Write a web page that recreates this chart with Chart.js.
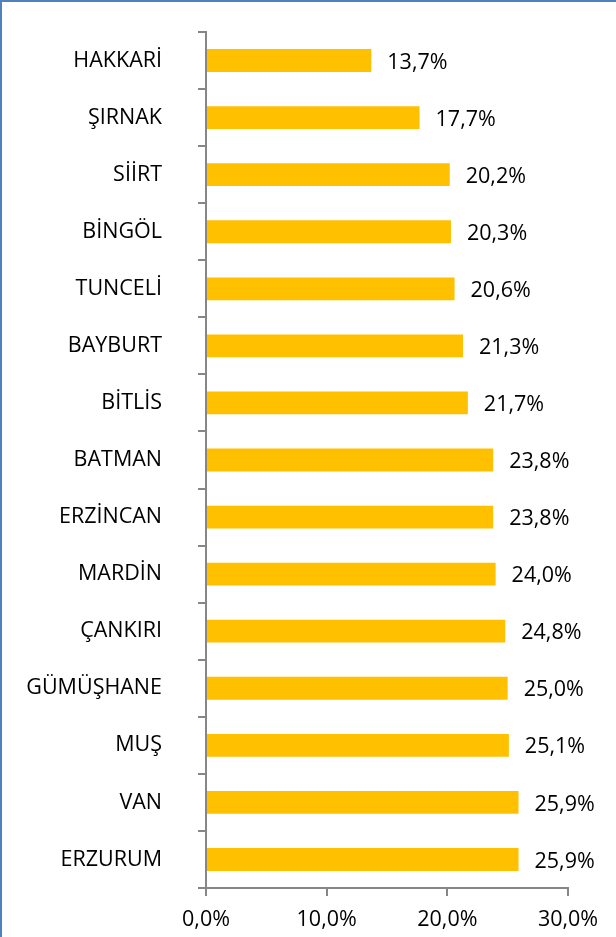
<!DOCTYPE html>
<html>
<head>
<meta charset="utf-8">
<script src="https://cdn.jsdelivr.net/npm/chart.js@4/dist/chart.umd.min.js"></script>
<style>
  html, body { margin: 0; padding: 0; background: #fff; }
  #wrap { position: relative; width: 616px; height: 937px; }
  #frame { position: absolute; left: 0; top: 0; right: 0; bottom: 0;
           border-top: 2px solid #4f81bd; border-left: 2px solid #4f81bd; pointer-events: none; }
</style>
</head>
<body>
<div id="wrap">
  <canvas id="chart" width="616" height="937"></canvas>
  <div id="frame"></div>
</div>
<script>
// province names, top to bottom
const provinces = ['HAKKARİ', 'ŞIRNAK', 'SİİRT', 'BİNGÖL', 'TUNCELİ', 'BAYBURT', 'BİTLİS',
  'BATMAN', 'ERZİNCAN', 'MARDİN', 'ÇANKIRI', 'GÜMÜŞHANE', 'MUŞ', 'VAN', 'ERZURUM'];
// percentages
const shares = [13.7, 17.7, 20.2, 20.3, 20.6, 21.3, 21.7, 23.8, 23.8, 24.0, 24.8, 25.0, 25.1, 25.9, 25.9];
const xTicks = [0, 10, 20, 30];

const FONT = '"Open Sans", sans-serif';
const fmt = v => v.toFixed(1).replace('.', ',') + '%';

// value labels next to each bar
const barLabels = {
  id: 'barLabels',
  afterDatasetsDraw(chart) {
    const ctx = chart.ctx;
    const meta = chart.getDatasetMeta(0);
    ctx.save();
    ctx.font = '21.5px ' + FONT;
    ctx.fillStyle = '#000';
    ctx.textAlign = 'left';
    ctx.textBaseline = 'middle';
    meta.data.forEach((bar, i) => {
      ctx.fillText(fmt(shares[i]), bar.x + 16, bar.y + 2);
    });
    ctx.restore();
  }
};

new Chart(document.getElementById('chart'), {
  type: 'bar',
  data: {
    labels: provinces,
    datasets: [{
      data: shares,
      backgroundColor: '#ffc000',
      borderWidth: 0,
      categoryPercentage: 0.4,
      barPercentage: 1
    }]
  },
  plugins: [barLabels],
  options: {
    indexAxis: 'y',
    responsive: false,
    animation: false,
    layout: { padding: { top: 32, right: 48, left: 0, bottom: 0 } },
    plugins: { legend: { display: false }, tooltip: { enabled: false } },
    scales: {
      x: {
        min: 0, max: 30,
        afterBuildTicks: s => { s.ticks = xTicks.map(v => ({ value: v })); },
        afterFit: s => { s.height = 937 - 888; },
        ticks: { color: '#000', font: { family: FONT, size: 21.5 }, padding: 11,
                 maxRotation: 0, callback: v => fmt(v) },
        grid: { display: true, drawOnChartArea: false, color: '#868686', lineWidth: 2, tickLength: 8 },
        border: { color: '#868686', width: 2 }
      },
      y: {
        afterFit: s => { s.width = 206; s.paddingTop = 0; s.paddingBottom = 0; },
        ticks: { color: '#000', font: { family: FONT, size: 21.5 }, padding: 36 },
        grid: { display: true, drawOnChartArea: false, offset: true, color: '#868686', lineWidth: 2, tickLength: 8 },
        border: { color: '#868686', width: 2 }
      }
    }
  }
});
</script>
</body>
</html>
